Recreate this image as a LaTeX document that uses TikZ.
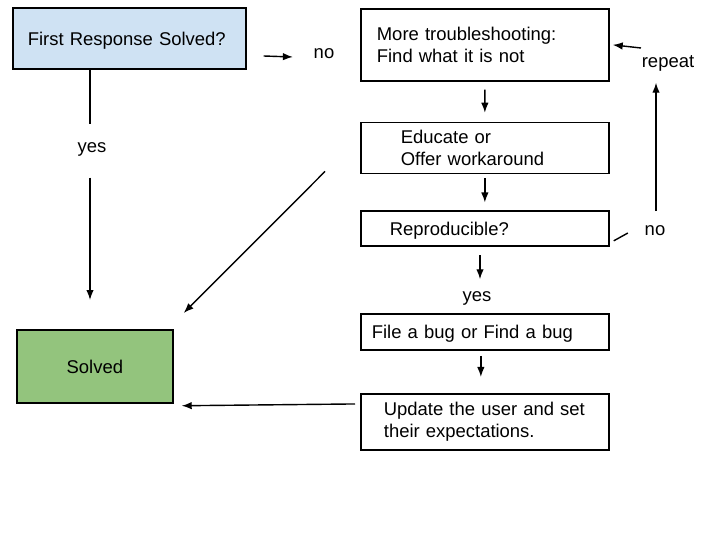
\documentclass[tikz,border=0pt]{standalone}
\usepackage{fontspec}
\setmainfont{Liberation Sans}
\usepackage{tikz}
\usetikzlibrary{arrows.meta, positioning, calc}
\definecolor{askblue}{HTML}{CFE2F3}
\definecolor{donegreen}{HTML}{93C47D}

\begin{document}
\begin{tikzpicture}[
    % 1. one unit is one pixel of the 720x540 frame
    x=0.02cm, y=-0.02cm,
    >={Latex[length=2mm,width=1.5mm]},
    font=\fontsize{10.5}{12.5}\selectfont,
    % 2. styles for boxes, loose words and arrows
    box/.style={rectangle, draw, line width=1pt, fill=white, anchor=north west, align=left, minimum width=4.96cm},
    oneline/.style={text depth=0pt},
    note/.style={inner sep=2pt},
    link/.style={->, line width=0.8pt}
]

    % --- FRAME ---
    \fill[white] (0,0) rectangle (720,540);
    \useasboundingbox (0,0) rectangle (720,540);

    % --- LEFT COLUMN ---
    \node (first) [box, oneline, fill=askblue, minimum width=4.66cm, minimum height=1.22cm, inner xsep=0.3cm, text width=4.06cm] at (12,7) {First Response Solved?};
    \node (solved) [box, oneline, fill=donegreen, align=center, minimum width=3.12cm, minimum height=1.46cm] at (16,329) {Solved};

    % --- RIGHT COLUMN ---
    \node (more) [box, minimum height=1.44cm, inner xsep=0.32cm, text width=4.32cm] at (360,8) {More troubleshooting:\\Find what it is not};
    \node (educate) [box, below=0.80cm of more.south west, anchor=north west, minimum height=1.02cm, inner xsep=0.8cm, text width=3.36cm] {Educate or\\Offer workaround};
    \node (repro) [box, oneline, below=0.72cm of educate.south west, anchor=north west, minimum height=0.7cm, inner xsep=0.58cm, text width=3.8cm] {Reproducible?};
    \node (bug) [box, oneline, below=1.32cm of repro.south west, anchor=north west, minimum height=0.72cm, inner xsep=0.22cm, text width=4.52cm] {File a bug or Find a bug};
    \node (update) [box, below=0.84cm of bug.south west, anchor=north west, minimum height=1.12cm, inner xsep=0.46cm, text width=4.04cm] {Update the user and set\\their expectations.};

    % --- LOOSE WORDS ---
    \node (no1) [note] at (324,54) {no};
    \node (yes1) [note] at (92,149) {yes};
    \node (yes2) [note] at (477,298) {yes};
    \node (no2) [note] at (655,231) {no};
    \node (again) [note] at (668,63) {repeat};

    % --- EDGES LEFT ---
    \draw[link] ($(first.east |- no1)+(17,2)$) -- ($(no1.west)+(-17,3)$);
    \draw[line width=0.8pt] ($(first.south -| yes1)+(-2,0)$) -- ($(yes1.north)+(-2,-14)$);
    \draw[link] ($(yes1.south)+(-2,18)$) -- ($(solved.north -| yes1)+(-2,-29)$);

    % --- EDGES RIGHT ---
    \draw[link] ($(more.south)+(0,8)$) -- ($(educate.north)+(0,-9)$);
    \draw[link] ($(educate.south)+(0,4)$) -- ($(repro.north)+(0,-8)$);
    \draw[link] ($(repro.south -| yes2)+(3,8)$) -- ($(yes2.north)+(3,-8)$);
    \draw[link] ($(bug.south)+(-4,5)$) -- ($(update.north)+(-4,-16)$);

    % --- LOOP BACK ---
    \draw[line width=0.8pt] ($(repro.east)+(4,12)$) -- ($(no2.west)+(-13,2)$);
    \draw[link] ($(no2.north)+(1,-11)$) -- ($(again.south -| no2)+(1,8)$);
    \draw[link] ($(again.west)+(3,-15)$) -- ($(more.east)+(3,0)$);

    % --- BACK TO SOLVED ---
    \draw[link] ($(educate.south west)+(-35,-3)$) -- ($(solved.north east)+(10,-16)$);
    \draw[link] ($(update.north west)+(-5,11)$) -- ($(solved.south east)+(8,2)$);

\end{tikzpicture}
\end{document}
